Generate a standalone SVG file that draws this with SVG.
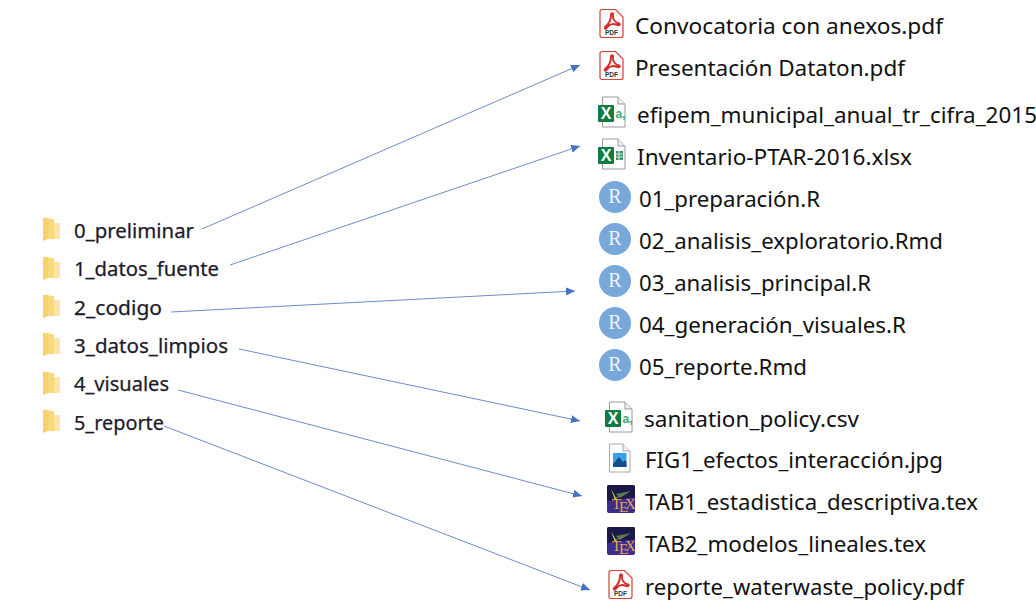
<svg xmlns="http://www.w3.org/2000/svg" width="1036" height="606" viewBox="0 0 1036 606">
<style>
text{font-family:"Noto Sans","Open Sans","Liberation Sans",sans-serif;fill:#111;}
.f{font-size:20px;fill:#1c1a2a;stroke:#1c1a2a;stroke-width:.25}
.r{font-size:22px}
.c{fill:none;stroke:#5b80bf;stroke-width:.9}
.rt{font-family:"Liberation Serif",serif;font-size:20px;fill:#eef4fa;text-anchor:middle}
.pt{font-family:"Liberation Sans",sans-serif;font-size:6.500px;font-weight:bold;fill:#333;text-anchor:middle}
.xt{font-family:"Liberation Sans",sans-serif;font-size:16px;font-weight:bold;fill:#fff;text-anchor:middle}
.tt{font-family:"Liberation Serif",serif;font-size:15px;fill:#e3a84e}
</style>
<defs>
<marker id="a" markerWidth="9" markerHeight="8" refX="9" refY="4" orient="auto" markerUnits="userSpaceOnUse"><path d="M0 0L9 4L0 8Z" fill="#4472c4"/></marker>
<symbol id="folder" width="20" height="28" viewBox="0 0 20 28" overflow="visible">
<path d="M1 3H9L10 8H18V24H5L1 26Z" fill="#fbe6a6"/><path d="M1 3H6V24L1 26Z" fill="#f6d16c"/><path d="M6 4H12V24H6Z" fill="#f8d97f"/>
</symbol>
<symbol id="pdf" width="25" height="30" viewBox="0 0 25 30" overflow="visible">
<path d="M3 .5H16.500L24 8V26.500a2 2 0 0 1-2 2H3a2 2 0 0 1-2-2V2.500a2 2 0 0 1 2-2Z" fill="#fff" stroke="#d2402f" stroke-width="1.200"/>
<path d="M6 18C10 15 12 10 12 6C12 3.500 14.500 3.500 14 7C13.500 10 16 13.500 20 14.500C22 15.500 20 17 17 15.500C14 14.500 10 15.500 8 18.500C7 20.500 5 19.500 6 18Z" fill="none" stroke="#d2302a" stroke-width="2"/>
<text class="pt" x="12.500" y="26">PDF</text>
</symbol>
<symbol id="xa" width="30" height="32" viewBox="0 0 30 32" overflow="visible">
<path d="M5.500 1H21L28 8V31H5.500Z" fill="#fff" stroke="#999" stroke-width="1"/><path d="M21 1V8H28" fill="#eee" stroke="#999" stroke-width="1"/>
<rect x="1" y="9" width="16" height="17" rx="1" fill="#107c41"/><text class="xt" x="9" y="23">X</text>
<text x="18.500" y="22" style="font-family:'Liberation Sans',sans-serif;font-size:12px;fill:#3ca878;font-weight:bold">a,</text>
</symbol>
<symbol id="xl" width="30" height="32" viewBox="0 0 30 32" overflow="visible">
<path d="M5.500 1H21L28 8V31H5.500Z" fill="#fff" stroke="#999" stroke-width="1"/><path d="M21 1V8H28" fill="#eee" stroke="#999" stroke-width="1"/>
<rect x="1" y="9" width="16" height="17" rx="1" fill="#107c41"/><text class="xt" x="9" y="23">X</text>
<path d="M19 13h7v9h-7Z" fill="#3f9368"/><path d="M19 16h7M19 19h7M22 13v9" stroke="#fff" stroke-width=".8"/>
</symbol>
<symbol id="rr" width="32" height="32" viewBox="0 0 32 32" overflow="visible">
<circle cx="16" cy="16" r="16" fill="#78a8da"/><text class="rt" x="16" y="22">R</text>
</symbol>
<symbol id="jpg" width="24" height="30" viewBox="0 0 24 30" overflow="visible">
<path d="M.5 1H14L21 8V29H.5Z" fill="#fff" stroke="#aaa"/><path d="M14 1V8H21" fill="#eee" stroke="#aaa"/>
<rect x="4" y="10" width="13.500" height="14" fill="#3aa0e8"/><path d="M4 24V21L10 14L14 19L16 17L17.500 19V24Z" fill="#0f4f8c"/>
</symbol>
<symbol id="tex" width="28" height="28" viewBox="0 0 28 28" overflow="visible">
<rect width="28" height="28" rx="2" fill="#3d2c8e"/><path d="M0 2a2 2 0 0 1 2-2H26a2 2 0 0 1 2 2V12L0 16Z" fill="#1a1846"/>
<path d="M4 4L9 13L15 8L8 15Z" fill="#d6dc48"/><path d="M9 9L24 6L13 13Z" fill="#5a7a55"/>
<text class="tt" x="5" y="24">T</text><text class="tt" x="12" y="26.500">E</text><text class="tt" x="18" y="24">X</text>
</symbol>
</defs>

<g id="connectors">
<line class="c" x1="202" y1="229" x2="580" y2="65" marker-end="url(#a)"/>
<line class="c" x1="230" y1="265" x2="580" y2="146" marker-end="url(#a)"/>
<line class="c" x1="171" y1="312" x2="575" y2="291" marker-end="url(#a)"/>
<line class="c" x1="239" y1="349" x2="580" y2="421" marker-end="url(#a)"/>
<line class="c" x1="178" y1="390" x2="582" y2="496" marker-end="url(#a)"/>
<line class="c" x1="164" y1="426" x2="590" y2="590" marker-end="url(#a)"/>
</g>

<g id="n0"><use href="#folder" x="42" y="215"/><text class="f" x="74" y="238" textLength="120" lengthAdjust="spacingAndGlyphs">0_preliminar</text></g>
<g id="n1"><use href="#folder" x="42" y="254"/><text class="f" x="74" y="276" textLength="145" lengthAdjust="spacingAndGlyphs">1_datos_fuente</text></g>
<g id="n2"><use href="#folder" x="42" y="292"/><text class="f" x="74" y="315" textLength="88" lengthAdjust="spacingAndGlyphs">2_codigo</text></g>
<g id="n3"><use href="#folder" x="42" y="330"/><text class="f" x="74" y="353" textLength="154" lengthAdjust="spacingAndGlyphs">3_datos_limpios</text></g>
<g id="n4"><use href="#folder" x="42" y="369"/><text class="f" x="74" y="391" textLength="95" lengthAdjust="spacingAndGlyphs">4_visuales</text></g>
<g id="n5"><use href="#folder" x="42" y="407"/><text class="f" x="74" y="430" textLength="90" lengthAdjust="spacingAndGlyphs">5_reporte</text></g>

<g id="f1"><use href="#pdf" x="599" y="9"/><text class="r" x="635" y="34" textLength="308" lengthAdjust="spacingAndGlyphs">Convocatoria con anexos.pdf</text></g>
<g id="f2"><use href="#pdf" x="599" y="51"/><text class="r" x="635" y="76" textLength="270" lengthAdjust="spacingAndGlyphs">Presentación Dataton.pdf</text></g>
<g id="f3"><use href="#xa" x="597" y="96"/><text class="r" x="637" y="123" textLength="400" lengthAdjust="spacingAndGlyphs">efipem_municipal_anual_tr_cifra_2015</text></g>
<g id="f4"><use href="#xl" x="597" y="138"/><text class="r" x="637" y="165" textLength="275" lengthAdjust="spacingAndGlyphs">Inventario-PTAR-2016.xlsx</text></g>
<g id="f5"><use href="#rr" x="599" y="181"/><text class="r" x="639" y="207" textLength="181" lengthAdjust="spacingAndGlyphs">01_preparación.R</text></g>
<g id="f6"><use href="#rr" x="599" y="223"/><text class="r" x="639" y="249" textLength="304" lengthAdjust="spacingAndGlyphs">02_analisis_exploratorio.Rmd</text></g>
<g id="f7"><use href="#rr" x="599" y="265"/><text class="r" x="639" y="291" textLength="232" lengthAdjust="spacingAndGlyphs">03_analisis_principal.R</text></g>
<g id="f8"><use href="#rr" x="599" y="307"/><text class="r" x="639" y="333" textLength="267" lengthAdjust="spacingAndGlyphs">04_generación_visuales.R</text></g>
<g id="f9"><use href="#rr" x="599" y="349"/><text class="r" x="639" y="375" textLength="168" lengthAdjust="spacingAndGlyphs">05_reporte.Rmd</text></g>
<g id="f10"><use href="#xa" x="604" y="401"/><text class="r" x="644" y="427" textLength="215" lengthAdjust="spacingAndGlyphs">sanitation_policy.csv</text></g>
<g id="f11"><use href="#jpg" x="609" y="443"/><text class="r" x="645" y="468" textLength="298" lengthAdjust="spacingAndGlyphs">FIG1_efectos_interacción.jpg</text></g>
<g id="f12"><use href="#tex" x="607" y="485"/><text class="r" x="645" y="510" textLength="333" lengthAdjust="spacingAndGlyphs">TAB1_estadistica_descriptiva.tex</text></g>
<g id="f13"><use href="#tex" x="607" y="527"/><text class="r" x="645" y="552" textLength="281" lengthAdjust="spacingAndGlyphs">TAB2_modelos_lineales.tex</text></g>
<g id="f14"><use href="#pdf" x="608" y="570"/><text class="r" x="645" y="595" textLength="319" lengthAdjust="spacingAndGlyphs">reporte_waterwaste_policy.pdf</text></g>
</svg>
